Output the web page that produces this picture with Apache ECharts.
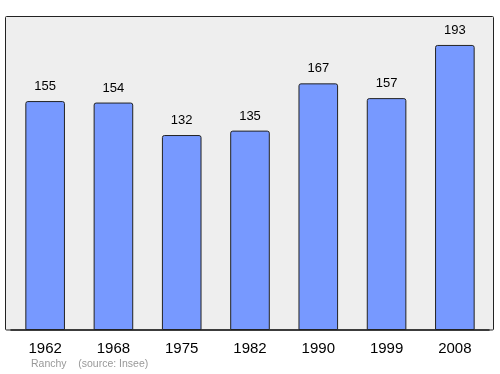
<!DOCTYPE html>
<html><head><meta charset="utf-8">
<script src="https://cdn.jsdelivr.net/npm/echarts@6/dist/echarts.min.js"></script>
<style>html,body{margin:0;padding:0;background:#fff}#c{width:500px;height:374px}</style>
</head><body><div id="c"></div>
<script>
const categories = ['1962','1968','1975','1982','1990','1999','2008'];
const population = [155,154,132,135,167,157,193];
const footer = 'Ranchy    (source: Insee)';

const chart = echarts.init(document.getElementById('c'));
chart.setOption({
  animation: false,
  graphic: [
    {type:'rect', shape:{x:5.5,y:16.5,width:488,height:313.5,r:1}, style:{fill:'#eeeeee',stroke:'#222',lineWidth:1}, z:-10},
    {type:'text', left:31, top:359, style:{text:footer, fill:'#999', font:'10.5px "Liberation Sans", Arial, sans-serif'}}
  ],
  grid: {left:11, right:11, top:16, bottom:44},
  xAxis: {
    type:'category', data:categories,
    axisLine:{show:true, lineStyle:{color:'#222', width:1.5}},
    axisTick:{show:false},
    axisLabel:{color:'#000', fontSize:15, fontFamily:'Liberation Sans, Arial, sans-serif', margin:11}
  },
  yAxis: {type:'value', min:0, max:212.6, show:false, splitLine:{show:false}},
  series: [{
    type:'bar', data:population, barWidth:'58%',
    itemStyle:{color:'#7799ff', borderColor:'#222', borderWidth:1, borderRadius:[2,2,0,0]},
    label:{show:true, position:'top', distance:8, color:'#000', fontSize:13, fontFamily:'Liberation Sans, Arial, sans-serif'}
  }]
});
</script></body></html>
